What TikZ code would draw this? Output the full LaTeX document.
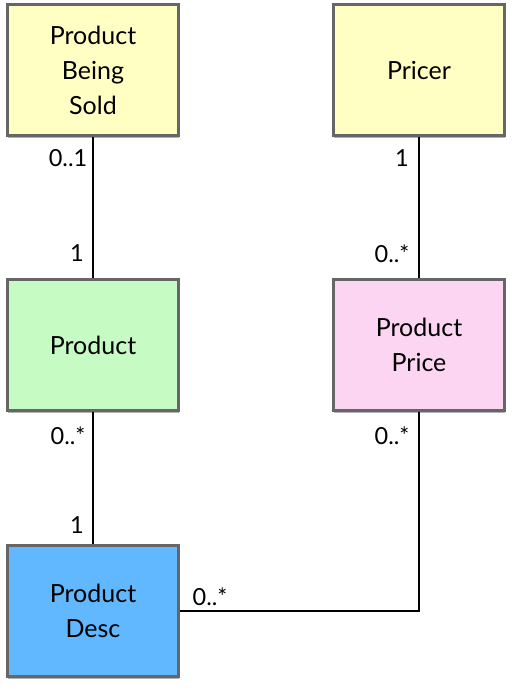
\documentclass[tikz,border=0pt]{standalone}
\usepackage{fontspec}
\setmainfont{Lato}
\usepackage{tikz}
\usetikzlibrary{positioning, shadows}
\definecolor{boxgray}{HTML}{666666}
\definecolor{soldyellow}{HTML}{FFFFC4}
\definecolor{prodgreen}{HTML}{C6FCC4}
\definecolor{pricepink}{HTML}{FBD5F1}
\definecolor{descblue}{HTML}{62B8FF}

\tikzset{
    classbox/.style={draw=boxgray, line width=3pt, minimum width=171pt, minimum height=131pt,
        align=center, font=\fontsize{25}{35}\selectfont,
        drop shadow={shadow xshift=0.5pt, shadow yshift=-2.5pt, opacity=0.3, fill=black}},
    assoc/.style={line width=1.6pt, black},
    mult/.style={font=\fontsize{23.5}{25}\selectfont, inner sep=0pt}
}

\begin{document}
\begin{tikzpicture}[x=1pt, y=-1pt]
    \useasboundingbox (0,0) rectangle (514,690);

    % 类
    \node[classbox, fill=soldyellow] (sold) at (93,70) {Product\\Being\\Sold};
    \node[classbox, fill=soldyellow] (pricer) at (419,70) {Pricer};
    \node[classbox, fill=prodgreen] (prod) at (93,345) {Product};
    \node[classbox, fill=pricepink] (price) at (419,345) {Product\\Price};
    \node[classbox, fill=descblue] (desc) at (93,611) {Product\\Desc};

    % 关联
    \draw[assoc] (sold) -- (prod);
    \draw[assoc] (pricer) -- (price);
    \draw[assoc] (prod) -- (desc);
    \draw[assoc] (desc.east) -| (price.south);

    % 多重性
    \node[mult] (m1) at (68,158) {0..1};
    \node[mult] (m2) at (77,253) {1};
    \node[mult] (m3) at (402,158) {1};
    \node[mult] (m4) at (392,254) {0..*};
    \node[mult] (m5) at (68,436) {0..*};
    \node[mult] (m6) at (77,525) {1};
    \node[mult] (m7) at (392,436) {0..*};
    \node[mult] (m8) at (210,597) {0..*};
\end{tikzpicture}
\end{document}
